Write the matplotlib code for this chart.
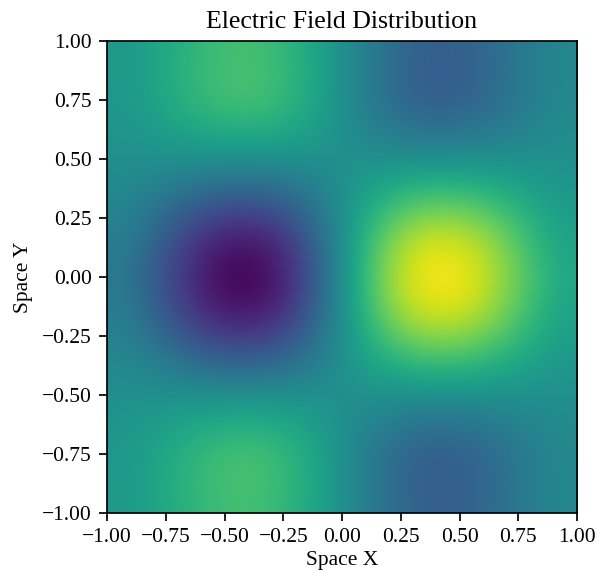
import numpy as np
import matplotlib
matplotlib.use('Agg')
from matplotlib import pyplot as plt

plt.rcParams['font.family'] = ['Liberation Serif', 'DejaVu Serif']

# field values, rows from top (y=+1) to bottom (y=-1),
# columns from left (x=-1) to right (x=+1); colour scale runs -1 .. 1
row_p093 = [0.07, 0.16, 0.28, 0.37, 0.41, 0.34, 0.20, 0.00, -0.20, -0.34, -0.41, -0.37, -0.28, -0.16, -0.07]
row_p080 = [0.07, 0.16, 0.29, 0.39, 0.43, 0.36, 0.21, 0.00, -0.21, -0.36, -0.43, -0.39, -0.29, -0.16, -0.07]
row_p067 = [0.05, 0.12, 0.22, 0.29, 0.32, 0.27, 0.16, 0.00, -0.16, -0.27, -0.32, -0.29, -0.22, -0.12, -0.05]
row_p053 = [0.01, 0.03, 0.05, 0.07, 0.08, 0.07, 0.04, 0.00, -0.04, -0.07, -0.08, -0.07, -0.05, -0.03, -0.01]
row_p040 = [-0.04, -0.10, -0.18, -0.24, -0.26, -0.22, -0.13, 0.00, 0.13, 0.22, 0.26, 0.24, 0.18, 0.10, 0.04]
row_p027 = [-0.11, -0.25, -0.44, -0.58, -0.62, -0.53, -0.30, 0.00, 0.30, 0.53, 0.62, 0.58, 0.44, 0.25, 0.11]
row_p013 = [-0.16, -0.37, -0.64, -0.85, -0.91, -0.78, -0.44, 0.00, 0.44, 0.78, 0.91, 0.85, 0.64, 0.37, 0.16]
row_0 = [-0.19, -0.42, -0.71, -0.94, -1.00, -0.86, -0.49, 0.00, 0.49, 0.86, 1.00, 0.94, 0.71, 0.42, 0.19]
# lower half mirrors the upper half
rows = [row_p093, row_p080, row_p067, row_p053, row_p040, row_p027, row_p013, row_0,
        row_p013, row_p027, row_p040, row_p053, row_p067, row_p080, row_p093]
field = np.array(rows)

ticks = [-1.0, -0.75, -0.5, -0.25, 0.0, 0.25, 0.5, 0.75, 1.0]

fig = plt.figure(figsize=(605 / 155, 571 / 155), dpi=155)
ax = fig.add_axes([0.1769, 0.1016, 0.7769, 0.8266])
ax.imshow(field, cmap='viridis', vmin=-1, vmax=1, extent=[-1, 1, -1, 1],
          origin='upper', aspect='auto', interpolation='bicubic')
ax.set_xticks(ticks)
ax.set_yticks(ticks)
ax.set_xlabel('Space X', labelpad=2)
ax.set_ylabel('Space Y')
ax.set_title('Electric Field Distribution')

fig.savefig('out.png', dpi=155)
